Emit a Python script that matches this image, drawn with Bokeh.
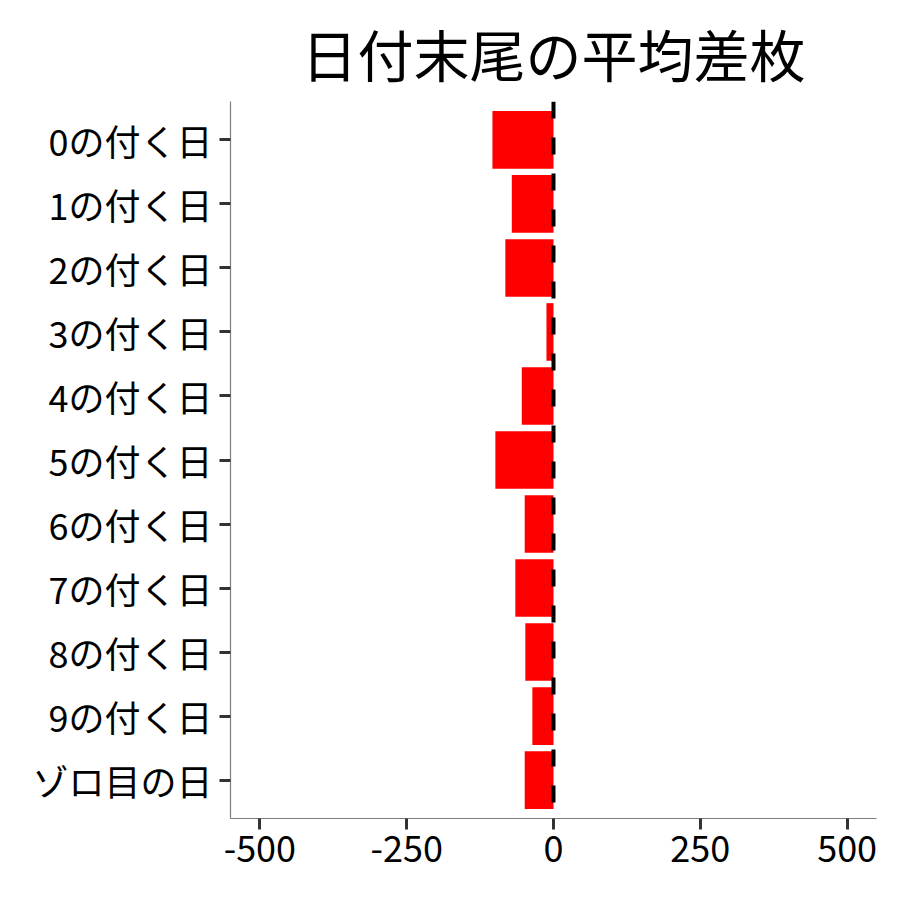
from bokeh.plotting import figure
from bokeh.models import FactorRange, Range1d, Span, FixedTicker
from bokeh.embed import file_html
from bokeh.resources import INLINE

categories = ["0の付く日", "1の付く日", "2の付く日", "3の付く日", "4の付く日",
              "5の付く日", "6の付く日", "7の付く日", "8の付く日", "9の付く日", "ゾロ目の日"]
values = [-104, -71, -82, -12, -54, -99, -49, -65, -48, -36, -49]
x_ticks = [-500, -250, 0, 250, 500]
x_tick_labels = ["-500", "-250", "0", "250", "500"]
title_text = "日付末尾の平均差枚"

FONT = "Noto Sans CJK JP"

p = figure(width=884, height=884, output_backend="svg", toolbar_location=None,
           y_range=FactorRange(factors=categories[::-1], range_padding=0.1,
                               range_padding_units="absolute"),
           x_range=Range1d(-550, 550),
           min_border_left=230, min_border_right=8, min_border_top=101, min_border_bottom=66)

p.hbar(y=categories, right=values, left=0, height=0.9, color="#ff0000", line_color=None)

p.add_layout(Span(location=0, dimension="height", line_color="black", line_width=4,
                  line_dash="17 19"))

p.title.text = title_text
p.title.text_font = FONT
p.title.text_font_size = "56px"
p.title.text_font_style = "normal"
p.title.text_color = "black"
p.title.align = "center"
p.title.offset = 0
p.title.standoff = 18

p.xgrid.visible = False
p.ygrid.visible = False
p.outline_line_color = None
p.background_fill_color = "white"
p.border_fill_color = "white"

p.xaxis.ticker = FixedTicker(ticks=x_ticks)
p.xaxis.major_label_overrides = {t: s for t, s in zip(x_ticks, x_tick_labels)}
p.xaxis.minor_tick_line_color = None

for ax in (p.xaxis[0], p.yaxis[0]):
    ax.axis_line_color = "#7f7f7f"
    ax.axis_line_width = 1.2
    ax.major_tick_line_color = "#333333"
    ax.major_tick_line_width = 3
    ax.major_tick_out = 11
    ax.major_tick_in = 0
    ax.major_label_text_font = FONT
    ax.major_label_text_font_size = "36px"
    ax.major_label_text_color = "black"
    ax.major_label_standoff = 6

p.yaxis.major_label_standoff = 7

open("out.html", "w").write(file_html(p, INLINE))
